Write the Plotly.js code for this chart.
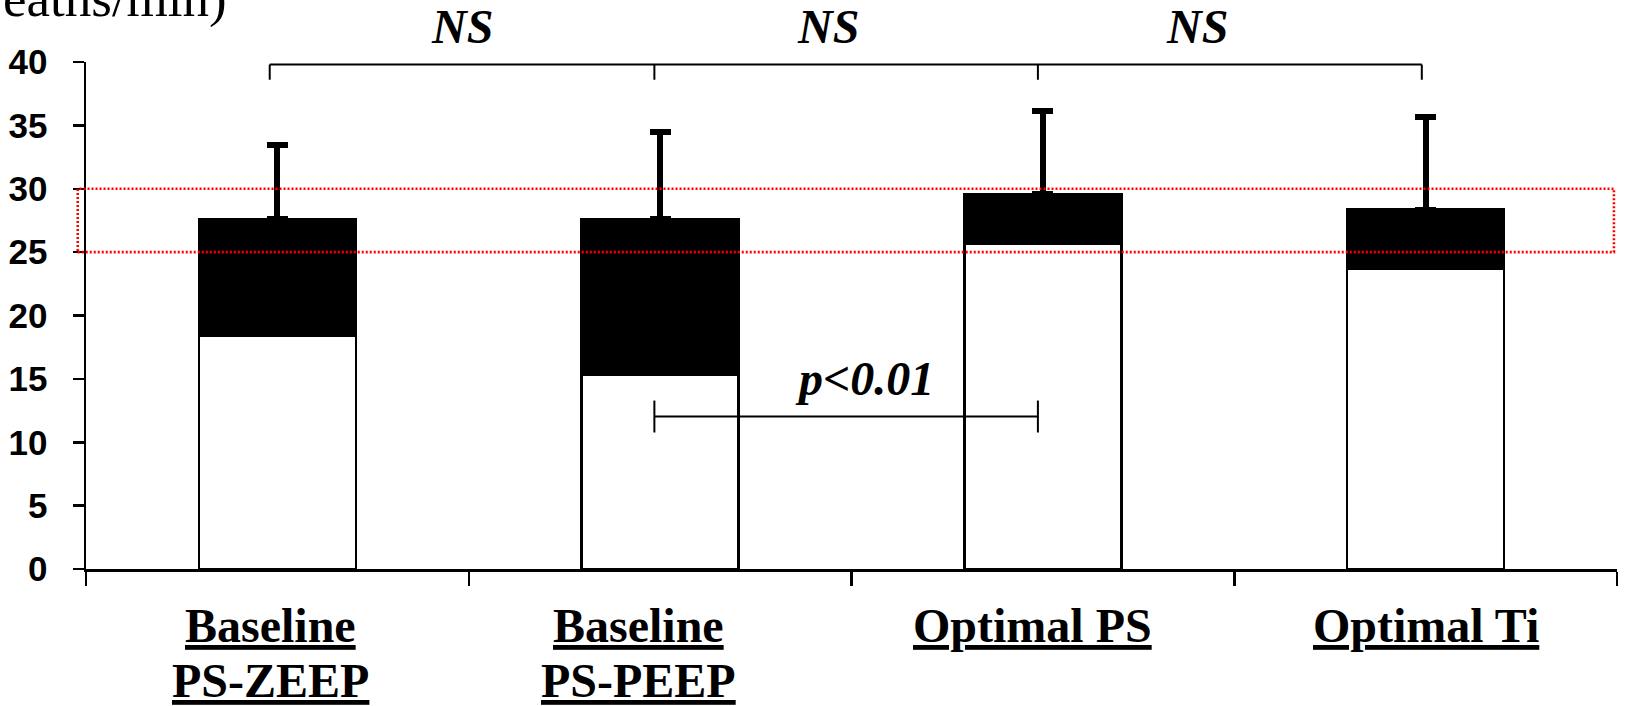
<!DOCTYPE html>
<html>
<head>
<meta charset="utf-8">
<script src="https://cdn.plot.ly/plotly-3.0.1.min.js"></script>
<style>
  html, body { margin: 0; padding: 0; background: #ffffff; }
  #chart { width: 1627px; height: 706px; }
</style>
</head>
<body>
<div id="chart"></div>
<script>
// ---- data ----
const categories = ['Baseline PS-ZEEP', 'Baseline PS-PEEP', 'Optimal PS', 'Optimal Ti'];
const labelLine1 = ['Baseline', 'Baseline', 'Optimal PS', 'Optimal Ti'];
const labelLine2 = ['PS-ZEEP', 'PS-PEEP', '', ''];
const lowerValues = [18.4, 15.35, 25.7, 23.7];     // white part
const upperValues = [9.2, 12.25, 3.85, 4.65];      // black part stacked on top
const errorPlus   = [5.85, 6.85, 6.55, 7.35];      // upward SD
const yTickVals   = [0, 5, 10, 15, 20, 25, 30, 35, 40];
const nsLabel = 'NS';
const pLabel = 'p<0.01';
const axisTitleFragment = 'eaths/min)';
const normalBand = [25, 30];

// ---- layout constants ----
const xIdx = categories.map((c, i) => i);
const labelX = [-0.017, 0.944, 1.972, 3.0];
const bracketX = [-0.02, 0.985, 1.987, 2.99];
const nsX = [0.482, 1.439, 2.403];
const serif = 'Liberation Serif, Times New Roman, serif';
const sans = 'Liberation Sans, Arial, sans-serif';

const traces = [
  {
    type: 'bar', x: xIdx, y: lowerValues, width: 0.41,
    marker: { color: '#ffffff', line: { color: '#000000', width: 2.5 } },
    hoverinfo: 'skip', showlegend: false
  },
  {
    type: 'bar', x: xIdx, y: upperValues, width: 0.41,
    marker: { color: '#000000', line: { color: '#000000', width: 2.5 } },
    error_y: {
      type: 'data', symmetric: false, array: errorPlus,
      arrayminus: errorPlus.map(() => 0),
      color: '#000000', thickness: 6, width: 10.5, visible: true
    },
    hoverinfo: 'skip', showlegend: false
  }
];

const annotations = [];
// category labels (two lines, underlined)
xIdx.forEach((i) => {
  annotations.push({
    xref: 'x', yref: 'paper', x: labelX[i], y: 0, yshift: -56.5,
    xanchor: 'center', yanchor: 'middle', showarrow: false,
    text: '<b><u>' + labelLine1[i] + '</u></b>',
    font: { family: serif, size: 48, color: '#000000' }
  });
  if (labelLine2[i]) {
    annotations.push({
      xref: 'x', yref: 'paper', x: labelX[i], y: 0, yshift: -111.5,
      xanchor: 'center', yanchor: 'middle', showarrow: false,
      text: '<b><u>' + labelLine2[i] + '</u></b>',
      font: { family: serif, size: 48, color: '#000000' }
    });
  }
});
// NS labels
nsX.forEach((x) => {
  annotations.push({
    xref: 'x', yref: 'paper', x: x, y: 1, yshift: 35.5,
    xanchor: 'center', yanchor: 'middle', showarrow: false,
    text: '<b><i>' + nsLabel + '</i></b>',
    font: { family: serif, size: 48, color: '#000000' }
  });
});
// p label
annotations.push({
  xref: 'x', yref: 'y', x: 1.535, y: 15,
  xanchor: 'center', yanchor: 'middle', showarrow: false,
  text: '<b><i>' + pLabel.replace('<', '&lt;') + '</i></b>',
  font: { family: serif, size: 48, color: '#000000' }
});
// clipped axis title fragment at the top-left (cut by the image edge, as in the reference)
annotations.push({
  xref: 'paper', yref: 'paper', x: 0, y: 1, xshift: -85, yshift: 63.2,
  xanchor: 'left', yanchor: 'middle', showarrow: false,
  text: axisTitleFragment,
  font: { family: serif, size: 53, color: '#000000' }
});

const shapes = [];
const blk = { color: '#000000', width: 2 };
// top bracket
shapes.push({ type: 'line', xref: 'x', yref: 'y', x0: bracketX[0], x1: bracketX[3], y0: 39.8, y1: 39.8, line: blk });
bracketX.forEach((x) => {
  shapes.push({ type: 'line', xref: 'x', yref: 'y', x0: x, x1: x, y0: 39.8, y1: 38.6, line: blk });
});
// p bracket
shapes.push({ type: 'line', xref: 'x', yref: 'y', x0: bracketX[1], x1: bracketX[2], y0: 12.03, y1: 12.03, line: blk });
[bracketX[1], bracketX[2]].forEach((x) => {
  shapes.push({ type: 'line', xref: 'x', yref: 'y', x0: x, x1: x, y0: 10.77, y1: 13.29, line: blk });
});
// red dotted normal-range band
shapes.push({
  type: 'rect', xref: 'paper', yref: 'y', x0: -0.0054, x1: 0.998,
  y0: normalBand[0], y1: normalBand[1], layer: 'above',
  line: { color: '#ff0000', width: 2.6, dash: '2px,2px' }, fillcolor: 'rgba(0,0,0,0)'
});

const layout = {
  width: 1627, height: 706,
  margin: { l: 86, r: 10, t: 62.3, b: 136.5, pad: 0 },
  paper_bgcolor: '#ffffff', plot_bgcolor: '#ffffff',
  barmode: 'stack', showlegend: false,
  xaxis: {
    range: [-0.5, 3.5], showgrid: false, zeroline: false,
    showline: true, linecolor: '#000000', linewidth: 2.5,
    tickmode: 'array', tickvals: [-0.5, 0.5, 1.5, 2.5, 3.5], ticktext: ['', '', '', '', ''],
    ticks: 'outside', ticklen: 14, tickwidth: 2.5, tickcolor: '#000000',
    showticklabels: false, fixedrange: true
  },
  yaxis: {
    range: [0, 40], showgrid: false, zeroline: false,
    showline: true, linecolor: '#000000', linewidth: 2.5,
    tickmode: 'array', tickvals: yTickVals, ticktext: yTickVals.map(String),
    ticks: 'outside', ticklen: 11, tickwidth: 2.5, tickcolor: '#000000',
    ticklabelstandoff: 18,
    tickfont: { family: sans, size: 35, color: '#000000', weight: 'bold' },
    fixedrange: true
  },
  annotations: annotations,
  shapes: shapes
};

Plotly.newPlot('chart', traces, layout, { staticPlot: true, displayModeBar: false });
</script>
</body>
</html>
